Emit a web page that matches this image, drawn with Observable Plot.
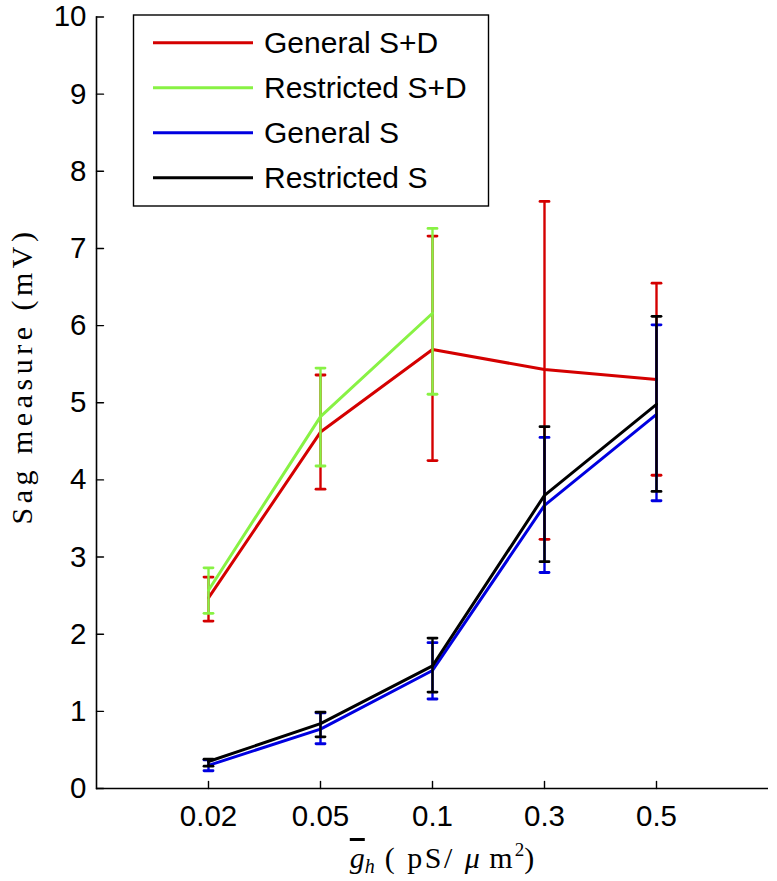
<!DOCTYPE html>
<html>
<head>
<meta charset="utf-8">
<script src="https://cdn.jsdelivr.net/npm/d3@7"></script>
<script src="https://cdn.jsdelivr.net/npm/@observablehq/plot@0.6"></script>
<style>
  html, body { margin: 0; padding: 0; background: #fff; }
  #chart svg { display: block; }
</style>
</head>
<body>
<div id="chart"></div>
<script>
// ---- data ----
const categories = ["0.02", "0.05", "0.1", "0.3", "0.5"];
const yTicks = [0, 1, 2, 3, 4, 5, 6, 7, 8, 9, 10];

const seriesNames = ["General S+D", "Restricted S+D", "General S", "Restricted S"];
const seriesColors = ["#d40000", "#88f244", "#0000e0", "#000000"];

const generalSD      = [2.47, 4.62, 5.69, 5.43, 5.30];
const generalSDLo    = [2.17, 3.88, 4.25, 3.23, 4.06];
const generalSDHi    = [2.74, 5.36, 7.16, 7.61, 6.55];

const restrictedSD   = [2.57, 4.82, 6.16];
const restrictedSDLo = [2.27, 4.18, 5.11];
const restrictedSDHi = [2.86, 5.45, 7.26];

const generalS       = [0.30, 0.77, 1.53, 3.67, 4.85];
const generalSLo     = [0.23, 0.58, 1.16, 2.80, 3.73];
const generalSHi     = [0.37, 0.98, 1.89, 4.55, 6.01];

const restrictedS    = [0.35, 0.84, 1.59, 3.80, 4.98];
const restrictedSLo  = [0.29, 0.67, 1.25, 2.94, 3.85];
const restrictedSHi  = [0.38, 0.99, 1.95, 4.69, 6.12];

// ---- build table ----
const seriesValues = [
  [generalSD, generalSDLo, generalSDHi],
  [restrictedSD, restrictedSDLo, restrictedSDHi],
  [generalS, generalSLo, generalSHi],
  [restrictedS, restrictedSLo, restrictedSHi]
];
const rows = [];
seriesValues.forEach(([v, lo, hi], si) => {
  v.forEach((val, i) => rows.push({series: seriesNames[si], order: si, cat: categories[i], y: val, lo: lo[i], hi: hi[i]}));
});

const tickShape = {draw(ctx, l) { ctx.moveTo(0, 0); ctx.lineTo(0, -l); }};

const marks = [];
seriesNames.forEach((name, si) => {
  const d = rows.filter(r => r.series === name);
  const c = seriesColors[si];
  marks.push(
    Plot.ruleX(d, {x: "cat", y1: "lo", y2: "hi", stroke: c, strokeWidth: 2.4}),
    Plot.vector(d, {x: "cat", y: "lo", length: 9, rotate: 90, anchor: "middle", shape: tickShape, stroke: c, strokeWidth: 2.8}),
    Plot.vector(d, {x: "cat", y: "hi", length: 9, rotate: 90, anchor: "middle", shape: tickShape, stroke: c, strokeWidth: 2.8}),
    Plot.line(d, {x: "cat", y: "y", stroke: c, strokeWidth: 3})
  );
});

const chart = Plot.plot({
  width: 777,
  height: 881,
  marginLeft: 96,
  marginRight: 9,
  marginTop: 16.5,
  marginBottom: 93,
  style: {fontFamily: "'Liberation Sans', Arial, sans-serif", fontSize: "29px", color: "#000", background: "#fff"},
  x: {type: "point", domain: categories, padding: 1, label: null},
  y: {domain: [0, 10], label: null},
  marks: [
    Plot.axisY({ticks: yTicks, tickSize: 0, tickPadding: 10, fontSize: 29.5, label: null}),
    Plot.axisX({tickSize: 0, tickPadding: 17, fontSize: 29.5, label: null}),
    // inward tick marks
    Plot.vector(yTicks, {y: d => d, frameAnchor: "left", length: 7, rotate: 90, anchor: "start", shape: tickShape, stroke: "#000", strokeWidth: 1.4}),
    Plot.vector(categories, {x: d => d, frameAnchor: "bottom", length: 7, rotate: 0, anchor: "start", shape: tickShape, stroke: "#000", strokeWidth: 1.4}),
    ...marks,
    Plot.frame({anchor: "left", stroke: "#000", strokeWidth: 1.6}),
    Plot.ruleY([0], {stroke: "#000", strokeWidth: 1.6})
  ]
});

document.getElementById("chart").appendChild(chart);

// ---- legend and axis titles ----
const svg = d3.select(chart);
const lg = svg.append("g");
lg.append("rect").attr("x", 133.5).attr("y", 15).attr("width", 355).attr("height", 191)
  .attr("fill", "#fff").attr("stroke", "#000").attr("stroke-width", 1.4);
seriesNames.forEach((name, i) => {
  const yy = 42.7 + i * 45;
  lg.append("line").attr("x1", 153).attr("x2", 253).attr("y1", yy).attr("y2", yy)
    .attr("stroke", seriesColors[i]).attr("stroke-width", 3);
  lg.append("text").attr("x", 264).attr("y", yy + 10.5)
    .attr("text-anchor", "start")
    .attr("font-family", "'Liberation Sans', Arial, sans-serif").attr("font-size", 30)
    .attr("fill", "#000").text(name);
});

svg.append("text")
  .attr("transform", "translate(32,376) rotate(-90)")
  .attr("text-anchor", "middle")
  .attr("font-family", "'Liberation Serif', 'DejaVu Serif', serif")
  .attr("font-size", 30).attr("letter-spacing", 4.5).attr("fill", "#000")
  .text("Sag measure (mV)");

const xl = svg.append("text")
  .attr("x", 442).attr("y", 868)
  .attr("text-anchor", "middle")
  .attr("font-family", "'Liberation Serif', 'DejaVu Serif', serif")
  .attr("font-size", 30).attr("fill", "#000");
xl.append("tspan").attr("font-style", "italic").style("text-decoration", "overline").text("g");
xl.append("tspan").attr("font-style", "italic").attr("font-size", 20).attr("dy", 5).text("h");
xl.append("tspan").attr("dy", -5).attr("letter-spacing", 2.5).text(" ( pS/ ");
xl.append("tspan").attr("font-style", "italic").text("μ");
xl.append("tspan").attr("letter-spacing", 2).text(" m");
xl.append("tspan").attr("font-size", 19).attr("dy", -12).text("2");
xl.append("tspan").attr("dy", 12).text(")");
</script>
</body>
</html>
